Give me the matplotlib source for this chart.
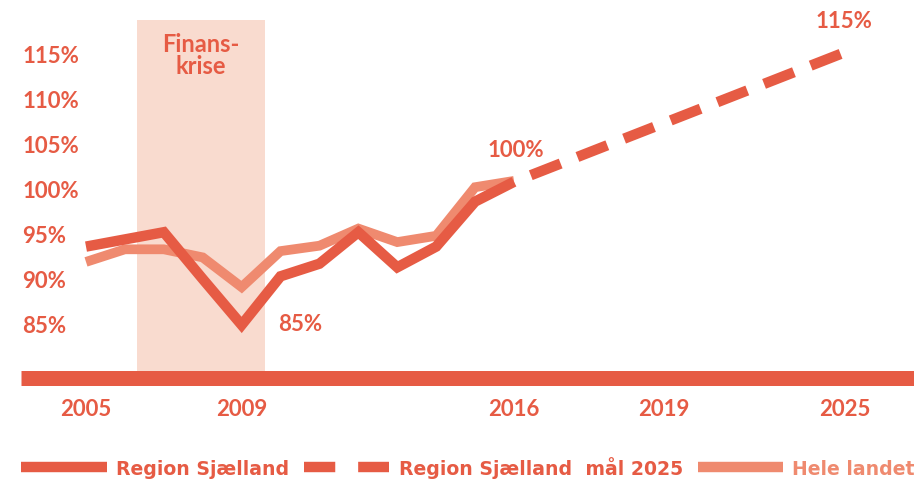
import numpy as np
import matplotlib
matplotlib.use("Agg")
import matplotlib.pyplot as plt
from matplotlib.lines import Line2D
import matplotlib.transforms as mtransforms

# ---------------- data ----------------
years = list(range(2005, 2017))
sjaelland = [93.6, 94.4, 95.2, 90.0, 84.9, 90.3, 91.7, 95.2, 91.3, 93.6, 98.6, 100.8]
hele_landet = [91.9, 93.3, 93.3, 92.4, 89.1, 93.1, 93.7, 95.6, 94.1, 94.8, 100.2, 100.9]
target_years = [2016, 2025]
target_values = [100.8, 115.2]

ytick_values = [85, 90, 95, 100, 105, 110, 115]
ytick_labels = ["85%", "90%", "95%", "100%", "105%", "110%", "115%"]
xtick_years = [2005, 2009, 2016, 2019, 2025]
xtick_labels = ["2005", "2009", "2016", "2019", "2025"]
crisis_start, crisis_end = 2006.3, 2009.6
crisis_label = "Finans-\nkrise"
annotations = [(2009, 84.9, "85%", (42, 1)), (2016, 100.8, "100%", (1, 23)), (2025, 115.2, "115%", (-1, 23))]
legend_labels = ["Region Sjælland", "Region Sjælland  mål 2025", "Hele landet"]

# ---------------- style ----------------
DARK = "#E65B44"
LIGHT = "#EF8A6F"
SHADE = "#F9DBCF"
FONT = "Lato"
LEGEND_FONT = "DejaVu Sans"

W, H = 914, 481
fig = plt.figure(figsize=(W / 100, H / 100), dpi=100)
ax_left, ax_right, ax_top, ax_bottom = 21, 914, 21, 378.5
ax = fig.add_axes([ax_left / W, 1 - ax_bottom / H, (ax_right - ax_left) / W, (ax_bottom - ax_top) / H])

# piecewise-linear year scale (the original infographic axis is not uniform)
KY = np.array([2005.0, 2016.0, 2019.0, 2025.0])
KP = np.array([86.0, 514.0, 664.0, 845.0])


def _pw(x, xs, ys):
    x = np.asarray(x, dtype=float)
    out = np.interp(x, xs, ys)
    s_lo = (ys[1] - ys[0]) / (xs[1] - xs[0])
    s_hi = (ys[-1] - ys[-2]) / (xs[-1] - xs[-2])
    out = np.where(x < xs[0], ys[0] + (x - xs[0]) * s_lo, out)
    out = np.where(x > xs[-1], ys[-1] + (x - xs[-1]) * s_hi, out)
    return out


def fwd(x):
    return _pw(x, KY, KP)


def inv(p):
    return _pw(p, KP, KY)


ax.set_xscale("function", functions=(fwd, inv))
ax.set_xlim(float(inv(ax_left)), float(inv(ax_right)))
# y: 100% at pixel 190, 9 px per %
ax.set_ylim(100 - (ax_bottom - 190) / 9, 100 + (190 - ax_top) / 9)

# crisis shading
ax.axvspan(crisis_start, crisis_end, color=SHADE, zorder=1, lw=0)
ax.text((crisis_start + crisis_end) / 2, 0.967, crisis_label,
        transform=mtransforms.blended_transform_factory(ax.transData, ax.transAxes),
        ha="center", va="top", fontsize=17, color=DARK, family=FONT,
        fontweight="bold", linespacing=0.95, zorder=5)

lw = 7.5
ax.plot(years, hele_landet, color=LIGHT, lw=7.0, solid_joinstyle="miter",
        solid_capstyle="butt", zorder=3)
ax.plot(years, sjaelland, color=DARK, lw=lw, solid_joinstyle="miter",
        solid_capstyle="butt", zorder=4)
ax.plot(target_years, target_values, color=DARK, lw=lw,
        linestyle=(3.08, (3.08, 1.73)), dash_capstyle="butt", zorder=4)

for x, y, txt, off in annotations:
    ax.annotate(txt, (x, y), xytext=off, textcoords="offset points",
                ha="center", va="center", fontsize=16, color=DARK,
                family=FONT, fontweight="bold", annotation_clip=False)

# axes decoration
for s in ["left", "top", "right"]:
    ax.spines[s].set_visible(False)
ax.spines["bottom"].set_color(DARK)
ax.spines["bottom"].set_linewidth(10.8)
ax.spines["bottom"].set_capstyle("butt")
ax.spines["bottom"].set_zorder(6)

ax.set_yticks(ytick_values, ytick_labels)
ax.set_xticks(xtick_years, xtick_labels)
ax.xaxis.set_minor_locator(matplotlib.ticker.NullLocator())
ax.tick_params(axis="y", length=0, pad=-1, labelsize=16, labelcolor=DARK)
ax.tick_params(axis="x", length=0, pad=14.5, labelsize=16, labelcolor=DARK)
for t in ax.get_yticklabels():
    t.set_ha("left")
    t.set_family(FONT)
    t.set_fontweight("bold")
for t in ax.get_xticklabels():
    t.set_family(FONT)
    t.set_fontweight("bold")
ax.set_facecolor("none")

# legend
handles = [
    Line2D([], [], color=DARK, lw=lw, solid_capstyle="butt"),
    Line2D([], [], color=DARK, lw=lw, linestyle=(0, (3.0, 2.2)), dash_capstyle="butt"),
    Line2D([], [], color=LIGHT, lw=lw, solid_capstyle="butt"),
]
leg = fig.legend(handles, legend_labels, loc="center left",
                 bbox_to_anchor=(21 / W, 1 - 468 / H), ncol=3, frameon=False,
                 handlelength=4.53, handletextpad=0.48, columnspacing=0.8,
                 borderpad=0, borderaxespad=0,
                 prop={"family": LEGEND_FONT, "weight": "bold", "size": 13.6})
for t, c in zip(leg.get_texts(), [DARK, DARK, LIGHT]):
    t.set_color(c)

fig.savefig("out.png", dpi=100)
